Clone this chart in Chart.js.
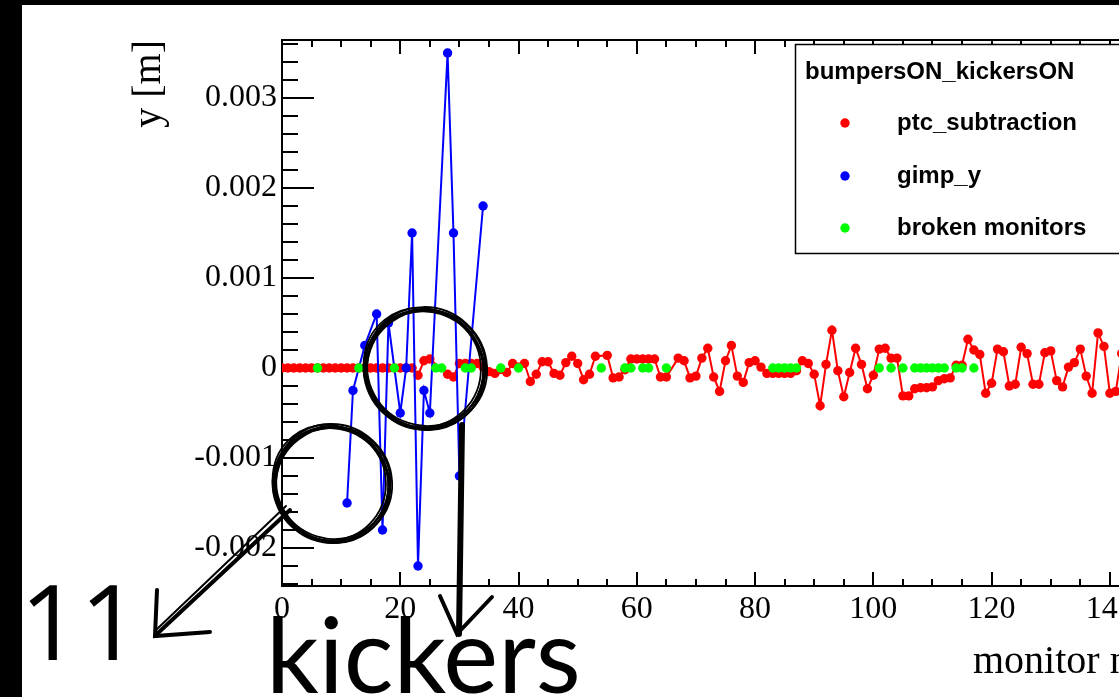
<!DOCTYPE html>
<html><head><meta charset="utf-8">
<script src="https://cdn.jsdelivr.net/npm/chart.js@4/dist/chart.umd.min.js"></script>
<style>
html,body{margin:0;padding:0;background:#000;overflow:hidden;width:1119px;height:697px;}
#panel{position:absolute;left:22px;top:5px;width:1300px;height:700px;background:#fff;}
#wrap{position:absolute;left:0;top:0;width:1300px;height:697px;}
</style></head><body>
<div id="panel"></div>
<div id="wrap"><canvas id="c" width="1300" height="697"></canvas></div>
<script>
// ---- data ----
const ptcX = [0,1,2,3,4,5,6,7,8,9,10,11,12,13,14,15,16,17,18,19,20,21,22,23,24,25,
  28,29,30,31,32,33,34,35,36,38,39,41,42,43,44,45,46,47,48,49,50,51,52,53,55,56,57,58,59,60,
  61,62,63,64,65,67,68,69,70,71,72,73,74,75,76,77,78,79,80,81,82,83,84,85,86,87,88,89,90,
  91,92,93,94,95,96,97,98,99,100,101,102,103,104,105,106,107,108,109,110,111,112,113,114,115,
  116,117,118,119,120,121,122,123,124,125,126,127,128,129,130,131,132,133,134,135,136,137,138,139,140,141,142];
const ptcY = [0,0,0,0,0,0,0,0,0,0,0,0,0,0,0,0,0,0,0,0,0,0,0,-0.00008,0.00008,0.0001,
  -0.00007,-0.0001,0.00005,0.00005,0.00005,0.00005,0.00001,-0.00004,-0.00006,-0.00005,0.00005,0.00005,-0.00015,-0.00007,0.00007,0.00007,-0.00006,-0.00008,0.00006,0.00013,0.00005,-0.00013,-0.00007,0.00013,0.00014,-0.00011,-0.0001,-0.00002,0.0001,0.0001,
  0.0001,0.0001,0.0001,-0.0001,-0.0001,0.00011,0.00008,-0.00011,-0.00009,0.00011,0.00022,-0.0001,-0.00026,0.00008,0.00025,-0.00009,-0.00016,0.00006,0.00008,0.00001,-0.00006,-0.00006,-0.00006,-0.00006,-0.00006,-0.00003,0.00008,0.00005,-0.00007,
  -0.00042,0.00004,0.00042,-0.00003,-0.00032,-0.00005,0.00022,0.00004,-0.00023,-0.00008,0.00021,0.00022,0.00011,0.00011,-0.00031,-0.00031,-0.00023,-0.00022,-0.00022,-0.00021,-0.00014,-0.00012,-0.00011,0.00003,0.00003,
  0.00032,0.0002,0.00015,-0.00028,-0.00017,0.00021,0.00018,-0.0002,-0.00018,0.00023,0.00016,-0.00018,-0.00018,0.00017,0.00019,-0.00014,-0.00021,0.00001,0.00006,0.00021,-0.00009,-0.00028,0.00039,0.00024,-0.00028,-0.00026,0.00016];
const gimpX = [11,12,14,16,17,18,20,21,22,23,24,25,28,29,30,34];
const gimpY = [-0.0015,-0.00025,0.00025,0.0006,-0.0018,0.0005,-0.0005,0,0.0015,-0.0022,-0.00025,-0.0005,0.0035,0.0015,-0.0012,0.0018];
const brokenX = [6,13,19,26,27,31,32,37,40,54,58,59,61,62,65,83,84,85,86,87,101,103,105,107,108,109,110,111,112,114,115,117];
const brokenY = brokenX.map(() => 0);
const xTickLabels = [0,20,40,60,80,100,120,140];
const yTickLabels = [-0.002,-0.001,0,0.001,0.002,0.003];
const seriesNames = ['ptc_subtraction','gimp_y','broken monitors'];
const legendHeader = 'bumpersON_kickersON';

const pts = (xs, ys) => xs.map((x, i) => ({x: x, y: ys[i]}));
const SERIF = '"Liberation Serif", "Times New Roman", serif';
const SANS = '"Liberation Sans", Arial, sans-serif';
const R = 4.7;

const rootFrame = {
  id: 'rootFrame',
  beforeDatasetsDraw(chart) {
    const ctx = chart.ctx, a = chart.chartArea;
    const xs = chart.scales.x, ys = chart.scales.y;
    ctx.save();
    ctx.strokeStyle = '#000';
    ctx.lineWidth = 2;
    ctx.beginPath();
    ctx.moveTo(a.left - 1, a.top); ctx.lineTo(a.right, a.top);
    for (let k = -12; k <= 18; k++) {
      const v = k * 0.0002;
      if (v < ys.min || v > ys.max) continue;
      const p = Math.round(ys.getPixelForValue(v));
      const len = (k % 5 === 0) ? 32 : 16;
      ctx.moveTo(a.left, p); ctx.lineTo(a.left + len, p);
    }
    for (let v = 0; v <= xs.max; v += 5) {
      const p = Math.round(xs.getPixelForValue(v));
      const len = (v % 20 === 0) ? 14 : 7;
      ctx.moveTo(p, a.bottom); ctx.lineTo(p, a.bottom - len);
      ctx.moveTo(p, a.top); ctx.lineTo(p, a.top + len);
    }
    ctx.stroke();
    ctx.restore();
  },
  afterDraw(chart) {
    const ctx = chart.ctx;
    ctx.save();
    ctx.fillStyle = '#000';
    ctx.font = '40px ' + SERIF;
    ctx.textBaseline = 'alphabetic';
    ctx.textAlign = 'left';
    ctx.fillText('monitor number', 973, 673);
    ctx.save();
    ctx.translate(160, 40);
    ctx.rotate(-Math.PI / 2);
    ctx.textAlign = 'right';
    ctx.fillText('y [m]', 0, 0);
    ctx.restore();
    // legend
    ctx.fillStyle = '#fff';
    ctx.fillRect(795, 44, 400, 209);
    ctx.strokeStyle = '#000';
    ctx.lineWidth = 1.5;
    ctx.strokeRect(795.5, 44.5, 400, 209);
    ctx.fillStyle = '#000';
    ctx.font = 'bold 24px ' + SANS;
    ctx.textAlign = 'left';
    ctx.textBaseline = 'middle';
    ctx.fillText(legendHeader, 805, 72);
    const ys = [123, 176, 228];
    chart.data.datasets.forEach((ds, i) => {
      ctx.fillStyle = ds.pointBackgroundColor;
      ctx.beginPath(); ctx.arc(845, ys[i], R, 0, Math.PI * 2); ctx.fill();
      ctx.fillStyle = '#000';
      ctx.fillText(ds.label, 897, ys[i]);
    });
    // hand-drawn annotations
    ctx.strokeStyle = '#000';
    ctx.lineCap = 'round';
    ctx.lineWidth = 1.8;
    const sketch = (cx, cy, r) => {
      for (let k = 0; k < 7; k++) {
        ctx.beginPath();
        ctx.ellipse(cx + ((k % 3) - 1) * 1.4, cy + (((k + 1) % 3) - 1) * 1.4,
          r + (k - 3) * 0.9, r * 0.97 + (k % 2) * 1.3, 0.15 * k, 0, Math.PI * 2);
        ctx.stroke();
      }
    };
    sketch(425, 369, 60);
    sketch(332, 484, 58);
    const line = (p, w) => {
      ctx.lineWidth = w;
      ctx.beginPath();
      ctx.moveTo(p[0][0], p[0][1]);
      for (let i = 1; i < p.length; i++) ctx.lineTo(p[i][0], p[i][1]);
      ctx.stroke();
    };
    line([[290, 510], [158, 633]], 4);
    line([[286, 506], [156, 630]], 2);
    line([[157, 590], [155, 636], [210, 632]], 4);
    line([[462, 425], [459, 634]], 6);
    line([[440, 596], [457, 634], [492, 597]], 4);
    // big slide text
    ctx.textBaseline = 'alphabetic';
    ctx.font = '105px "Open Sans", Lato, sans-serif';
    ctx.fillText('11', 20, 660);
    ctx.font = '104px Lato, "Open Sans", sans-serif';
    ctx.fillText('kickers', 266, 693);
    ctx.restore();
  }
};

new Chart(document.getElementById('c'), {
  type: 'scatter',
  data: {
    datasets: [
      { label: seriesNames[0], data: pts(ptcX, ptcY), showLine: true, borderColor: '#ff0000',
        backgroundColor: '#ff0000', pointBackgroundColor: '#ff0000', pointBorderWidth: 0,
        pointRadius: R, borderWidth: 2, order: 3 },
      { label: seriesNames[1], data: pts(gimpX, gimpY), showLine: true, borderColor: '#0000ff',
        backgroundColor: '#0000ff', pointBackgroundColor: '#0000ff', pointBorderWidth: 0,
        pointRadius: R, borderWidth: 2, order: 2 },
      { label: seriesNames[2], data: pts(brokenX, brokenY), showLine: false, borderColor: '#00ff00',
        backgroundColor: '#00ff00', pointBackgroundColor: '#00ff00', pointBorderWidth: 0,
        pointRadius: R, order: 1 }
    ]
  },
  options: {
    responsive: false, animation: false, devicePixelRatio: 1,
    layout: { padding: { left: 0, top: 40, right: 131, bottom: 0 } },
    plugins: { legend: { display: false }, tooltip: { enabled: false } },
    scales: {
      x: {
        type: 'linear', min: 0, max: 150,
        grid: { display: false, drawTicks: false },
        border: { display: true, color: '#000', width: 2 },
        ticks: { color: '#000', font: { family: SERIF, size: 32 }, padding: 4, maxRotation: 0, autoSkip: false },
        afterBuildTicks: s => { s.ticks = xTickLabels.map(v => ({ value: v })); },
        afterFit: s => { s.height = 111; }
      },
      y: {
        type: 'linear', min: -0.0024222, max: 0.0036444,
        grid: { display: false, drawTicks: false },
        border: { display: true, color: '#000', width: 2 },
        ticks: { color: '#000', font: { family: SERIF, size: 32 }, padding: 5,
          callback: v => (Math.abs(v) < 1e-9 ? '0' : v.toFixed(3)) },
        afterBuildTicks: s => { s.ticks = yTickLabels.map(v => ({ value: v })); },
        afterFit: s => { s.width = 282; }
      }
    }
  },
  plugins: [rootFrame]
});
</script></body></html>
